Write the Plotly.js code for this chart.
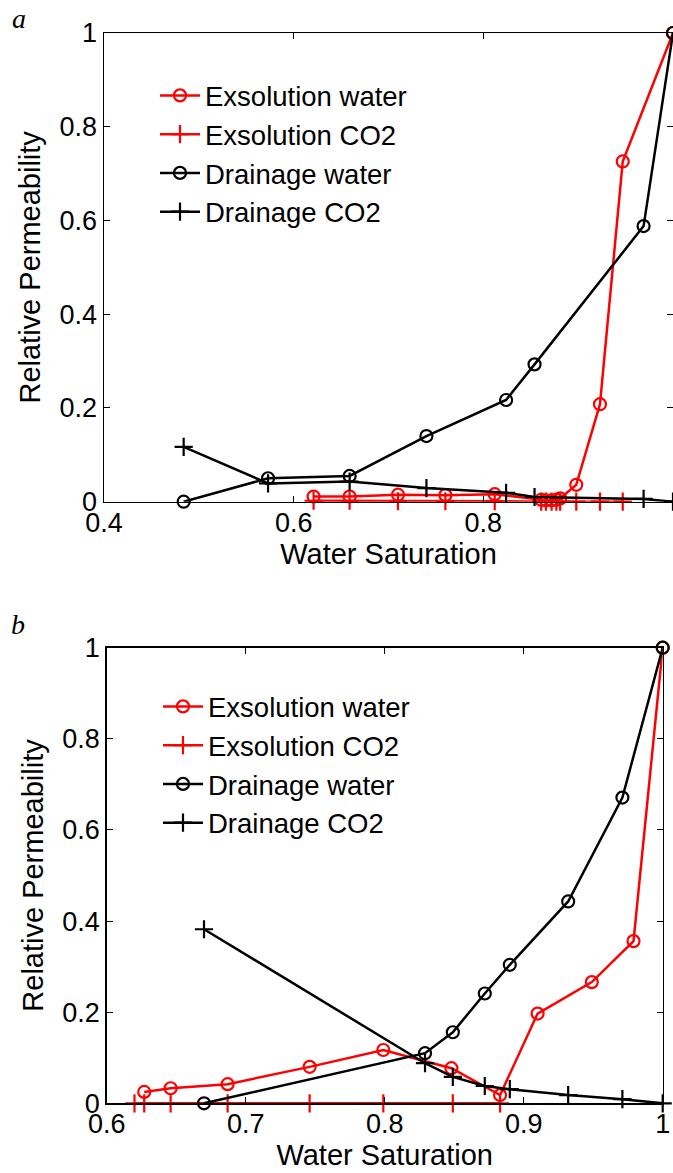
<!DOCTYPE html>
<html>
<head>
<meta charset="utf-8">
<script src="https://cdn.plot.ly/plotly-3.0.1.min.js"></script>
<style>html,body{margin:0;padding:0;background:#fff;} #chart{width:673px;height:1173px;}</style>
</head>
<body>
<div id="chart"></div>
<script>
// ---- Panel a data ----
const aExsWaterX = [0.621, 0.659, 0.710, 0.760, 0.812, 0.861, 0.866, 0.872, 0.877, 0.881, 0.898, 0.923, 0.947, 1.0];
const aExsWaterY = [0.011, 0.011, 0.015, 0.014, 0.016, 0.004, 0.003, 0.003, 0.004, 0.007, 0.036, 0.208, 0.726, 1.0];
const aExsCO2X = [0.621, 0.659, 0.710, 0.760, 0.812, 0.861, 0.866, 0.872, 0.877, 0.881, 0.898, 0.923, 0.947];
const aExsCO2Y = [0.002, 0.002, 0.001, 0.001, 0.001, 0, 0, 0, 0, 0, 0, 0, 0];
const aDrnX = [0.484, 0.573, 0.659, 0.740, 0.824, 0.854, 0.969, 1.0];
const aDrnWaterY = [0, 0.050, 0.055, 0.140, 0.217, 0.293, 0.588, 1.0];
const aDrnCO2Y = [0.117, 0.039, 0.043, 0.029, 0.019, 0.010, 0.006, 0];

// ---- Panel b data ----
const bExsWaterX = [0.627, 0.646, 0.687, 0.746, 0.799, 0.848, 0.883, 0.910, 0.949, 0.979, 1.0];
const bExsWaterY = [0.025, 0.033, 0.042, 0.080, 0.117, 0.077, 0.018, 0.197, 0.266, 0.356, 1.0];
const bExsCO2X = [0.620, 0.627, 0.646, 0.687, 0.746, 0.799, 0.849, 0.883];
const bExsCO2Y = [0, 0, 0, 0, 0, 0, 0, 0];
const bDrnX = [0.670, 0.829, 0.849, 0.872, 0.890, 0.932, 0.971, 1.0];
const bDrnWaterY = [0, 0.110, 0.156, 0.241, 0.304, 0.443, 0.671, 1.0];
const bDrnCO2Y = [0.382, 0.088, 0.058, 0.038, 0.031, 0.018, 0.009, 0];

const seriesNames = ['Exsolution water', 'Exsolution CO2', 'Drainage water', 'Drainage CO2'];
const xTitle = 'Water Saturation';
const yTitle = 'Relative Permeability';
const panelLabels = ['a', 'b'];

const FONT = 'Liberation Sans, Arial, Helvetica, sans-serif';

function mk(x, y, name, color, sym, xa, ya, lg) {
  return {
    x: x, y: y, name: name, type: 'scatter', mode: 'lines+markers',
    xaxis: xa, yaxis: ya, legend: lg, cliponaxis: false,
    line: {color: color, width: 2.5},
    marker: {symbol: sym, size: sym === 'circle-open' ? 12 : 13, color: color, line: {color: color, width: 2.2}}
  };
}

const data = [
  mk(aExsWaterX, aExsWaterY, seriesNames[0], '#ff0000', 'circle-open', 'x', 'y', 'legend'),
  mk(aExsCO2X, aExsCO2Y, seriesNames[1], '#ff0000', 'cross-thin-open', 'x', 'y', 'legend'),
  mk(aDrnX, aDrnWaterY, seriesNames[2], '#000000', 'circle-open', 'x', 'y', 'legend'),
  mk(aDrnX, aDrnCO2Y, seriesNames[3], '#000000', 'cross-thin-open', 'x', 'y', 'legend'),
  mk(bExsWaterX, bExsWaterY, seriesNames[0], '#ff0000', 'circle-open', 'x2', 'y2', 'legend2'),
  mk(bExsCO2X, bExsCO2Y, seriesNames[1], '#ff0000', 'cross-thin-open', 'x2', 'y2', 'legend2'),
  mk(bDrnX, bDrnWaterY, seriesNames[2], '#000000', 'circle-open', 'x2', 'y2', 'legend2'),
  mk(bDrnX, bDrnCO2Y, seriesNames[3], '#000000', 'cross-thin-open', 'x2', 'y2', 'legend2')
];

const H = 1173, W = 673;
function axBase() {
  return {
    showgrid: false, zeroline: false, showline: true, linecolor: '#000', linewidth: 1.5,
    mirror: 'ticks', ticks: 'inside', ticklen: 6, tickwidth: 1, tickcolor: '#000',
    tickfont: {family: FONT, size: 27, color: '#000'}, automargin: false
  };
}

const layout = {
  width: W, height: H,
  margin: {l: 0, r: 0, t: 0, b: 0},
  paper_bgcolor: '#fff', plot_bgcolor: '#fff',
  font: {family: FONT, color: '#000'},
  showlegend: true,
  xaxis: Object.assign(axBase(), {
    domain: [104 / W, 1], range: [0.4, 1.0], tickvals: [0.4, 0.6, 0.8, 1.0], ticktext: ['0.4', '0.6', '0.8', '1'],
    anchor: 'y', ticklabelstandoff: -4,
    title: {text: xTitle, font: {family: FONT, size: 29}, standoff: 0}
  }),
  yaxis: Object.assign(axBase(), {
    domain: [1 - 501.7 / H, 1 - 33 / H], range: [0, 1], tickvals: [0, 0.2, 0.4, 0.6, 0.8, 1], ticktext: ['0', '0.2', '0.4', '0.6', '0.8', '1'],
    anchor: 'x',
    title: {text: yTitle, font: {family: FONT, size: 29}, standoff: 10}
  }),
  xaxis2: Object.assign(axBase(), {
    domain: [106.7 / W, 662.7 / W], range: [0.6, 1.0], tickvals: [0.6, 0.7, 0.8, 0.9, 1.0], ticktext: ['0.6', '0.7', '0.8', '0.9', '1'],
    anchor: 'y2', ticklabelstandoff: -4,
    title: {text: xTitle, font: {family: FONT, size: 29}, standoff: 0}
  }),
  yaxis2: Object.assign(axBase(), {
    domain: [1 - 1103.3 / H, 1 - 647.7 / H], range: [0, 1], tickvals: [0, 0.2, 0.4, 0.6, 0.8, 1], ticktext: ['0', '0.2', '0.4', '0.6', '0.8', '1'],
    anchor: 'x2',
    title: {text: yTitle, font: {family: FONT, size: 29}, standoff: 10}
  }),
  legend: {
    x: 155 / W, y: 1 - 71 / H, xanchor: 'left', yanchor: 'top',
    bgcolor: 'rgba(0,0,0,0)', borderwidth: 0,
    font: {family: FONT, size: 27.5, color: '#000'}, itemwidth: 40, tracegroupgap: 0
  },
  legend2: {
    x: 158 / W, y: 1 - 682 / H, xanchor: 'left', yanchor: 'top',
    bgcolor: 'rgba(0,0,0,0)', borderwidth: 0,
    font: {family: FONT, size: 27.5, color: '#000'}, itemwidth: 40, tracegroupgap: 0
  },
  annotations: [
    {text: '<i>' + panelLabels[0] + '</i>', xref: 'paper', yref: 'paper', x: 19 / W, y: 1 - 18 / H, xanchor: 'center', yanchor: 'middle', showarrow: false,
      font: {family: 'Liberation Serif, Times New Roman, serif', size: 28, color: '#000'}},
    {text: '<i>' + panelLabels[1] + '</i>', xref: 'paper', yref: 'paper', x: 18 / W, y: 1 - 624 / H, xanchor: 'center', yanchor: 'middle', showarrow: false,
      font: {family: 'Liberation Serif, Times New Roman, serif', size: 28, color: '#000'}}
  ]
};

Plotly.newPlot('chart', data, layout, {displayModeBar: false, staticPlot: true});
</script>
</body>
</html>
